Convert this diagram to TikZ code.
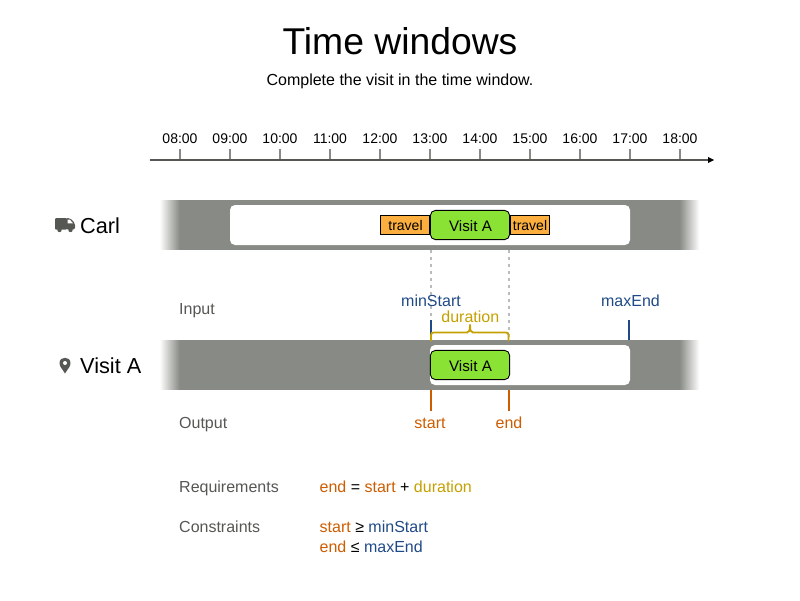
\documentclass[tikz,border=0pt]{standalone}
\usepackage{fontspec}
\setmainfont{Liberation Sans}
\definecolor{barcol}{HTML}{888A85}
\definecolor{darkcol}{HTML}{555753}
\definecolor{bluecol}{HTML}{204A87}
\definecolor{orangecol}{HTML}{CE5C00}
\definecolor{goldcol}{HTML}{C4A000}
\definecolor{greencol}{HTML}{8AE234}
\definecolor{travelcol}{HTML}{FCAF3E}
\definecolor{guidecol}{HTML}{BBBBBB}
\tikzset{
  txt/.style={inner sep=0pt,anchor=base,font=\fontsize{16}{16}\selectfont},
  sidetxt/.style={txt,anchor=base west,text=darkcol},
  rowtxt/.style={inner sep=0pt,anchor=base west,font=\fontsize{21.7}{22}\selectfont},
  hourtxt/.style={inner sep=0pt,anchor=base,font=\fontsize{14}{14}\selectfont},
  visittxt/.style={inner sep=0pt,anchor=base,font=\fontsize{15.2}{15}\selectfont},
  visitbox/.style={draw=black,fill=greencol,rounded corners=5pt,line width=0.9pt,inner sep=0pt,minimum width=79.2pt,minimum height=29.2pt},
  travelbox/.style={draw=black,fill=travelcol,line width=0.9pt,inner sep=0pt,minimum height=19.2pt},
  guide/.style={guidecol,line width=2pt,dash pattern=on 3pt off 4pt},
  tick/.style={line width=2pt}
}
\begin{document}
\begin{tikzpicture}[x=1pt,y=-1pt]
  \useasboundingbox (0,0) rectangle (800,600);
  \node[txt,font=\fontsize{37.3}{37}\selectfont] (title) at (400,54) {Time windows};
  \node[txt] (subtitle) at (400,85) {Complete the visit in the time window.};
  % time axis
  \coordinate (axisL) at (150,160);
  \coordinate (axisR) at (708,160);
  \foreach \h [count=\i from 0] in {08,09,10,11,12,13,14,15,16,17,18} {
    \coordinate (hour\i) at (180+50*\i,160);
    \coordinate (top\i) at (180+50*\i,149);
    \draw[barcol,line width=1.2pt] (hour\i) -- (top\i);
    \node[hourtxt] (label\i) at (180+50*\i,143) {\h:00};
  }
  \draw[darkcol,line width=1.1pt] (axisL) -- (axisR);
  \fill[black] (714,160) -- (708,157) -- (708,163) -- cycle;
  % bars
  \foreach \y in {200,340} {
    \fill[barcol] (180,\y) rectangle (680,\y+50);
    \foreach \k in {0,...,19} {
      \pgfmathtruncatemacro{\mixval}{(\k+0.5)*5}
      \fill[barcol!\mixval!white] (160+\k,\y) rectangle (180,\y+50);
      \fill[barcol!\mixval!white] (680,\y) rectangle (700-\k,\y+50);
    }
  }
  \fill[white,rounded corners=5pt] (230,205) rectangle (630,245);
  \fill[white,rounded corners=5pt] (430,345) rectangle (630,385);
  % carl row
  \fill[darkcol,rounded corners=1pt] (55,218) rectangle (67,229.5);
  \fill[darkcol,rounded corners=2pt] (66,218) -- (70,218) -- (75,223) -- (75,229.5) -- (66,229.5) -- cycle;
  \fill[white] (67.5,219.5) -- (69.7,219.5) -- (73,223.3) -- (67.5,223.3) -- cycle;
  \fill[darkcol] (59.5,230) circle (2.2pt);
  \fill[darkcol] (70.5,230) circle (2.2pt);
  \node[rowtxt] (carl) at (80,233) {Carl};
  \node[travelbox,minimum width=49.2pt] (travelA) at (405,225) {};
  \node[travelbox,minimum width=39.2pt] (travelB) at (530,225) {};
  \node[hourtxt] (travelAtxt) at (405.5,230) {travel};
  \node[hourtxt] (travelBtxt) at (530,230) {travel};
  \node[visitbox] (visitCarl) at (470,225) {};
  \node[visittxt] (visitCarltxt) at (470.5,231) {Visit A};
  % visit row
  \fill[darkcol] (65,373.5) .. controls (62.5,369) and (59.5,367) .. (59.5,363)
    .. controls (59.5,359.5) and (62,357.8) .. (65,357.8)
    .. controls (68,357.8) and (70.5,359.5) .. (70.5,363)
    .. controls (70.5,367) and (67.5,369) .. (65,373.5) -- cycle;
  \fill[white] (65,363) circle (2pt);
  \node[rowtxt] (visitrow) at (80,373) {Visit A};
  \node[visitbox] (visitA) at (470,365) {};
  \node[visittxt] (visitAtxt) at (470.5,371) {Visit A};
  % guides
  \coordinate (guideA) at (431,250);
  \coordinate (guideB) at (508.5,250);
  \coordinate (guideAend) at (431,340);
  \coordinate (guideBend) at (508.5,340);
  \draw[guide] (guideA) -- (guideAend);
  \draw[guide] (guideB) -- (guideBend);
  % input
  \node[sidetxt] (input) at (179,314) {Input};
  \node[txt,text=bluecol] (minstart) at (431,306) {minStart};
  \node[txt,text=bluecol] (maxend) at (630.5,306) {maxEnd};
  \node[txt,text=goldcol] (duration) at (470.3,322) {duration};
  \coordinate (minA) at (431,320);
  \coordinate (minB) at (431,340);
  \coordinate (maxA) at (629,320);
  \coordinate (maxB) at (629,340);
  \draw[bluecol,tick] (minA) -- (minB);
  \draw[bluecol,tick] (maxA) -- (maxB);
  \coordinate (braceL) at (431,341);
  \coordinate (braceR) at (508.5,341);
  \coordinate (braceM) at (470,324.5);
  \draw[goldcol,line width=1.8pt] (braceL) -- (431,335) .. controls (431,333) and (432,332.5) .. (434,332.5)
    -- (467,332.5) .. controls (469,332.5) and (470,331) .. (braceM)
    .. controls (470,331) and (471,332.5) .. (473,332.5) -- (505.5,332.5)
    .. controls (507.5,332.5) and (508.5,333) .. (508.5,335) -- (braceR);
  % output
  \node[sidetxt] (output) at (179,428) {Output};
  \node[txt,text=orangecol] (start) at (430,428) {start};
  \node[txt,text=orangecol] (end) at (509,428) {end};
  \coordinate (startA) at (431,390);
  \coordinate (startB) at (431,411);
  \coordinate (endA) at (508.5,390);
  \coordinate (endB) at (508.5,411);
  \draw[orangecol,tick] (startA) -- (startB);
  \draw[orangecol,tick] (endA) -- (endB);
  % rules
  \node[sidetxt] (requirements) at (179,492) {Requirements};
  \node[txt,anchor=base west] (formula) at (319.5,492) {\textcolor{orangecol}{end} = \textcolor{orangecol}{start} + \textcolor{goldcol}{duration}};
  \node[sidetxt] (constraints) at (179,532) {Constraints};
  \node[txt,anchor=base west] (lower) at (319.5,532) {\textcolor{orangecol}{start} ≥ \textcolor{bluecol}{minStart}};
  \node[txt,anchor=base west] (upper) at (319.5,552) {\textcolor{orangecol}{end} ≤ \textcolor{bluecol}{maxEnd}};
\end{tikzpicture}
\end{document}
